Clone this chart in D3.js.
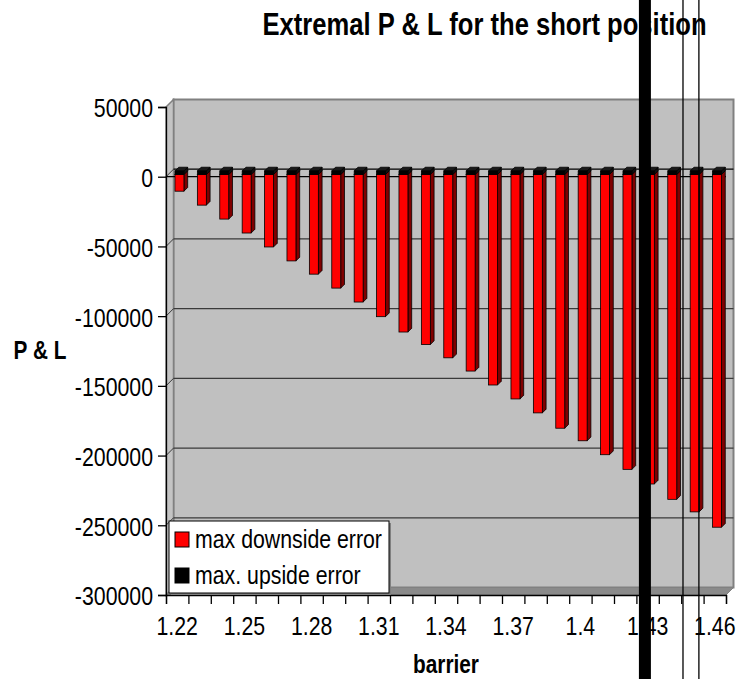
<!DOCTYPE html>
<html>
<head>
<meta charset="utf-8">
<script src="https://cdn.jsdelivr.net/npm/d3@7"></script>
<style>
  body { margin: 0; background: #fff; }
  text { font-family: "Liberation Sans", Arial, sans-serif; }
</style>
</head>
<body>
<div id="graf"></div>
<script>
// Datos
const categories = ['1.22', '1.23', '1.24', '1.25', '1.26', '1.27', '1.28', '1.29', '1.3',
  '1.31', '1.32', '1.33', '1.34', '1.35', '1.36', '1.37', '1.38', '1.39', '1.4',
  '1.41', '1.42', '1.43', '1.44', '1.45', '1.46']
const downside = [-12000, -22000, -32000, -42000, -52000, -62000, -71500, -81500, -91500,
  -102000, -113000, -122000, -131500, -141000, -151000, -161000, -171000, -182000, -191000,
  -201000, -211500, -222000, -233000, -242000, -253000]
const upside = [2500, 2500, 2500, 2500, 2500, 2500, 2500, 2500, 2500, 2500, 2500, 2500, 2500,
  2500, 2500, 2500, 2500, 2500, 2500, 2500, 2500, 2500, 2500, 2500, 2500]
const yTicks = [50000, 0, -50000, -100000, -150000, -200000, -250000, -300000]
const xLabels = ['1.22', '1.25', '1.28', '1.31', '1.34', '1.37', '1.4', '1.43', '1.46']
const markers = [1.4288, 1.4458, 1.4529]
const markerWidths = [12, 1.3, 1.3]
const seriesNames = ['max downside error', 'max. upside error']

const W = 740, H = 679
const stretch = 1.2
// Profundidad 3D
const dx = 7.5, dy = -7.5
const d0 = 0.3, d1 = 0.8

const svg = d3.select('#graf').append('svg').attr('width', W).attr('height', H)

const x = d3.scaleBand().domain(categories).range([166, 726]).paddingInner(0.6).paddingOuter(0.3)
const y = d3.scaleLinear().domain([-300000, 50000]).range([595, 107])
const idx = d3.scaleLinear().domain([0, categories.length]).range([166, 726])
const bw = x.bandwidth()
const xLin = d3.scaleLinear().domain([1.22, 1.46]).range([x('1.22') + bw / 2, x('1.46') + bw / 2])

const [x0, x1] = x.range()
const [yb, yt] = y.range()

// Paredes
svg.append('rect')
  .attr('x', x0 + dx).attr('y', yt + dy)
  .attr('width', x1 - x0).attr('height', yb - yt)
  .attr('fill', '#c0c0c0').attr('stroke', '#808080').attr('stroke-width', 2)

svg.append('polygon')
  .attr('points', [[x0, yt], [x0 + dx, yt + dy], [x0 + dx, yb + dy], [x0, yb]].join(' '))
  .attr('fill', '#c4c4c4').attr('stroke', '#808080').attr('stroke-width', 1.5)

svg.append('polygon')
  .attr('points', [[x0, yb], [x1, yb], [x1 + dx, yb + dy], [x0 + dx, yb + dy]].join(' '))
  .attr('fill', '#8a8a8a').attr('stroke', '#808080').attr('stroke-width', 1)

// Rejilla
const grid = svg.append('g')
grid.selectAll('line.h')
  .data(yTicks.filter(d => d > -300000 && d < 50000))
  .join('line')
  .attr('class', 'h')
  .attr('x1', x0 + dx).attr('x2', x1 + dx)
  .attr('y1', d => y(d) + dy).attr('y2', d => y(d) + dy)
  .attr('stroke', d => d === 0 ? '#000' : '#3a3a3a').attr('stroke-width', 1.3)
grid.selectAll('line.d')
  .data(yTicks.filter(d => d > -300000 && d < 50000))
  .join('line')
  .attr('class', 'd')
  .attr('x1', x0).attr('x2', x0 + dx)
  .attr('y1', d => y(d)).attr('y2', d => y(d) + dy)
  .attr('stroke', '#3a3a3a').attr('stroke-width', 1)

// Línea de cero frontal
svg.append('line')
  .attr('x1', x0).attr('x2', x1)
  .attr('y1', y(0)).attr('y2', y(0))
  .attr('stroke', '#000').attr('stroke-width', 1.3)

// Cajas 3D
const box = (g, cx, vTop, vBot, front, side, top) => {
  const ya = y(vTop) + d0 * dy, yz = y(vBot) + d0 * dy
  const ox = (d1 - d0) * dx, oy = (d1 - d0) * dy
  const xa = cx + d0 * dx
  g.append('polygon')
    .attr('points', [[xa + bw, ya], [xa + bw + ox, ya + oy], [xa + bw + ox, yz + oy], [xa + bw, yz]].join(' '))
    .attr('fill', side).attr('stroke', '#000').attr('stroke-width', 0.8)
  g.append('polygon')
    .attr('points', [[xa, ya], [xa + ox, ya + oy], [xa + bw + ox, ya + oy], [xa + bw, ya]].join(' '))
    .attr('fill', top).attr('stroke', '#000').attr('stroke-width', 0.8)
  g.append('rect')
    .attr('x', xa).attr('y', ya).attr('width', bw).attr('height', yz - ya)
    .attr('fill', front).attr('stroke', '#000').attr('stroke-width', 0.8)
}

const bars = svg.append('g')
categories.forEach((c, i) => {
  const g = bars.append('g')
  box(g, x(c), 0, downside[i], '#ff0000', '#800000', '#ff0000')
  box(g, x(c), upside[i], 0, '#000000', '#111111', '#1a1a1a')
})

// Ejes
const yAxis = svg.append('g')
  .attr('transform', `translate(${x0},0)`)
  .call(d3.axisLeft(y).tickValues(yTicks).tickSize(8).tickPadding(5).tickFormat(d => String(d)))
yAxis.select('.domain').attr('stroke', '#000').attr('stroke-width', 1.3)
yAxis.selectAll('.tick line').attr('stroke', '#000').attr('stroke-width', 1.3)
yAxis.selectAll('.tick text')
  .attr('font-size', 21.3).attr('fill', '#000')
  .attr('font-family', '"Liberation Sans", Arial, sans-serif')
  .attr('dy', null).attr('y', 8.3)
  .attr('transform', `scale(1,${stretch})`)

const xTicks = svg.append('g')
  .attr('transform', `translate(0,${yb})`)
  .call(d3.axisBottom(idx).tickValues(d3.range(categories.length + 1)).tickSize(9).tickFormat(''))
xTicks.select('.domain').attr('stroke', '#000').attr('stroke-width', 1.3)
xTicks.selectAll('.tick line').attr('stroke', '#000').attr('stroke-width', 1.3)

const xAxis = svg.append('g')
  .attr('transform', `translate(0,${yb})`)
  .call(d3.axisBottom(x).tickValues(xLabels).tickSize(0).tickPadding(0))
xAxis.select('.domain').remove()
xAxis.selectAll('.tick text')
  .attr('font-size', 21.3).attr('fill', '#000')
  .attr('font-family', '"Liberation Sans", Arial, sans-serif')
  .attr('dy', null).attr('y', 40 / stretch)
  .attr('transform', `scale(1,${stretch})`)

// Textos
const label = (txt, px, py, size, bold) => {
  svg.append('text')
    .attr('transform', `translate(${px},${py}) scale(1,${stretch})`)
    .attr('text-anchor', 'middle')
    .attr('font-size', size)
    .attr('font-weight', bold ? 'bold' : 'normal')
    .attr('fill', '#000')
    .text(txt)
}
label('Extremal P & L for the short position', 484.5, 35, 25.6, true)
label('P & L', 40, 359, 20.8, true)
label('barrier', 446, 673, 20.8, true)

// Leyenda
const legend = svg.append('g').attr('transform', 'translate(169,521)')
legend.append('rect').attr('x', 2).attr('y', 2).attr('width', 220).attr('height', 72).attr('fill', '#808080')
legend.append('rect').attr('width', 220).attr('height', 72)
  .attr('fill', '#fff').attr('stroke', '#000').attr('stroke-width', 1)
seriesNames.forEach((name, i) => {
  legend.append('rect')
    .attr('x', 6).attr('y', 11 + i * 36).attr('width', 14).attr('height', 15)
    .attr('fill', i === 0 ? '#ff0000' : '#000').attr('stroke', '#000').attr('stroke-width', 1)
  legend.append('text')
    .attr('transform', `translate(26,${27 + i * 35.5}) scale(1,${stretch})`)
    .attr('font-size', 21.3).attr('fill', '#000')
    .text(name)
})

// Marcadores verticales
svg.append('g').selectAll('line')
  .data(markers)
  .join('line')
  .attr('x1', d => xLin(d)).attr('x2', d => xLin(d))
  .attr('y1', 0).attr('y2', H)
  .attr('stroke', '#000')
  .attr('stroke-width', (d, i) => markerWidths[i])
</script>
</body>
</html>
